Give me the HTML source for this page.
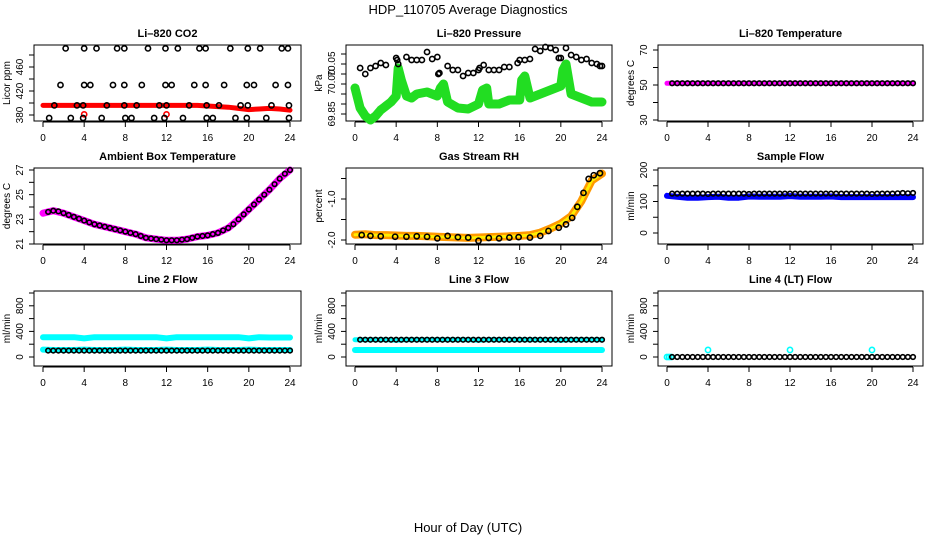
<!DOCTYPE html>
<html><head><meta charset="utf-8">
<style>
html,body{margin:0;padding:0;background:#fff;}
svg{display:block;font-family:"Liberation Sans",sans-serif;}
</style></head>
<body>
<svg id="chart" width="936" height="540" viewBox="0 0 936 540" xmlns="http://www.w3.org/2000/svg">
<text x="468" y="14" text-anchor="middle" font-size="13">HDP_110705  Average Diagnostics</text>
<text x="468" y="532" text-anchor="middle" font-size="13">Hour of Day (UTC)</text>
</svg>
<script>
// ---------- data ----------
const xTicks = [0,4,8,12,16,20,24];
const xTickLabels = ["0","4","8","12","16","20","24"];
const H48 = [0.5,1,1.5,2,2.5,3,3.5,4,4.5,5,5.5,6,6.5,7,7.5,8,8.5,9,9.5,10,10.5,11,11.5,12,12.5,13,13.5,14,14.5,15,15.5,16,16.5,17,17.5,18,18.5,19,19.5,20,20.5,21,21.5,22,22.5,23,23.5,24];
const HOURS = [0,1,2,3,4,5,6,7,8,9,10,11,12,13,14,15,16,17,18,19,20,21,22,23,24];

// CO2
const co2BlackX = [2.2,4.0,5.2,7.2,7.9,10.2,11.9,13.1,15.2,15.8,18.2,19.9,21.1,23.2,23.8, 1.7,4.0,4.6,6.8,7.9,9.6,11.9,12.5,14.7,15.8,17.6,19.8,20.5,22.6,23.8, 1.1,3.3,3.9,6.2,7.9,9.1,11.3,12.0,14.2,15.9,17.1,19.2,19.9,22.2,23.9, 0.6,2.7,3.9,5.7,8.0,8.6,10.8,11.8,13.6,15.9,16.5,18.7,19.8,21.7,23.9];
const co2BlackY = [491,491,491,491,491,491,491,491,491,491,491,491,491,491,491, 430,430,430,430,430,430,430,430,430,430,430,430,430,430,430, 396,396,396,396,396,396,396,396,396,396,396,396,396,396,396, 375,375,375,375,375,375,375,375,375,375,375,375,375,375,375];
const co2Red = [396,396,396,396,396,396,396,396,396,396,396,396,396,396,396,396,395,394,393,391,389,390,391,390,388];
const co2RedSpikeX = [4,12];
const co2RedSpikeY = [381,381];
const co2YTicks = [380,400,420,440,460,480];
const co2YLabels = ["380","","420","","460",""];

// Pressure
const presGreenX = [0,0.5,1,1.5,2,2.5,3,3.5,4,4.2,4.5,5,5.5,6,7,8,8.3,8.6,9,10,11,12,12.4,12.8,13,14,15,16,16.2,16.5,17,18,19,20,20.2,20.5,21,22,23,24];
const presGreenY = [69.99,69.94,69.92,69.91,69.92,69.935,69.945,69.955,69.97,70.04,70.01,69.97,69.965,69.975,69.98,69.97,69.99,70.0,69.955,69.94,69.9375,69.95,69.985,69.99,69.95,69.95,69.96,69.96,70.01,70.02,69.965,69.975,69.985,69.995,70.035,70.05,69.975,69.965,69.955,69.955];
const presBlackX = [0.5,1,1.5,2,2.5,3,4,4.1,4.2,5,5.5,6,6.5,7,7.5,8,8.1,8.2,9,9.5,10,10.5,11,11.5,12,12.1,12.5,13,13.5,14,14.5,15,15.8,16,16.5,17,17.5,18,18.5,19,19.5,19.8,20,20.5,21,21.5,22,22.5,23,23.5,23.8,24];
const presBlackY = [70.04,70.025,70.04,70.045,70.0525,70.0475,70.065,70.06,70.05,70.0675,70.06,70.06,70.06,70.08,70.0625,70.0675,70.025,70.0275,70.045,70.035,70.035,70.02,70.0275,70.0275,70.035,70.04,70.0475,70.035,70.035,70.035,70.0425,70.0425,70.0525,70.06,70.06,70.0625,70.0875,70.0825,70.0925,70.09,70.085,70.065,70.0650,70.09,70.0725,70.0675,70.06,70.0625,70.0525,70.05,70.045,70.045];
const presYTicks = [69.925,69.95,69.975,70.0,70.025,70.05,70.075];
const presYLabels = ["","","","","","",""];
const presLabelVals = [69.925,70.005,70.05];
const presLabelText = ["69.85","70.00","70.05"];

// Li-820 temperature
const tempBlack = [51,51,51,51,51,51,51,51,51,51,51,51,51,51,51,51,51,51,51,51,51,51,51,51,51,51,51,51,51,51,51,51,51,51,51,51,51,51,51,51,51,51,51,51,51,51,51,51];
const tempMag = [51,51,51,51,51,51,51,51,51,51,51,51,51,51,51,51,51,51,51,51,51,51,51,51,51];
const tempYTicks = [30,40,50,60,70];
const tempYLabels = ["30","","50","","70"];

// Ambient
const ambMag = [23.5,23.7,23.5,23.2,22.9,22.6,22.4,22.2,22.0,21.8,21.5,21.4,21.3,21.3,21.4,21.6,21.7,21.9,22.3,23.0,23.8,24.6,25.4,26.3,27.0];
const ambBlackX = [0.5,1,1.5,2,2.5,3,3.5,4,4.5,5,5.5,6,6.5,7,7.5,8,8.5,9,9.5,10,10.5,11,11.5,12,12.5,13,13.5,14,14.5,15,15.5,16,16.5,17,17.5,18,18.5,19,19.5,20,20.5,21,21.5,22,22.5,23,23.5,24];
const ambBlackY = [23.6,23.7,23.65,23.5,23.35,23.2,23.05,22.9,22.75,22.6,22.5,22.4,22.3,22.2,22.1,22.0,21.9,21.8,21.65,21.5,21.45,21.4,21.35,21.3,21.3,21.3,21.35,21.4,21.5,21.6,21.65,21.7,21.8,21.9,22.1,22.3,22.6,23.0,23.4,23.8,24.2,24.6,25.0,25.4,25.85,26.3,26.7,27.0];
const ambYTicks = [21,22,23,24,25,26,27];
const ambYLabels = ["21","","23","","25","","27"];

// Gas RH
const rhOrange = [-1.87,-1.86,-1.88,-1.88,-1.89,-1.9,-1.9,-1.91,-1.92,-1.93,-1.94,-1.95,-1.94,-1.93,-1.92,-1.91,-1.9,-1.88,-1.82,-1.72,-1.6,-1.42,-1.05,-0.55,-0.38];
const rhBlackX = [0.65,1.5,2.5,3.9,5,6,7,8.0,9,10,11,12.0,13,14,15,15.9,17,18.0,18.8,19.8,20.5,21.1,21.6,22.2,22.7,23.2,23.8];
const rhBlackY = [-1.88,-1.9,-1.91,-1.92,-1.92,-1.91,-1.92,-1.96,-1.9,-1.93,-1.94,-2.02,-1.95,-1.96,-1.94,-1.93,-1.94,-1.9,-1.78,-1.7,-1.62,-1.46,-1.19,-0.85,-0.51,-0.42,-0.37];
const rhYTicks = [-2.0,-1.5,-1.0,-0.5];
const rhYLabels = ["-2.0","","-1.0",""];

// Sample flow
const sampBlue = [118,115,112,112,114,115,112,112,116,115,115,115,117,115,115,115,116,114,114,114,114,114,114,114,114];
const sampBlack = [125,125,125,125,125,125,125,124,125,125,125,125,125,125,125,124,125,125,125,125,125,125,125,125,125,125,125,125,125,125,125,125,125,125,125,125,125,125,125,124,125,125,125,125,126,127,126,127];
const flowSmallTicks = [0,50,100,150,200];
const flowSmallLabels = ["0","","100","","200"];

// Line flows
const l2CyanHi = [310,310,310,310,290,310,310,310,310,310,310,310,290,310,310,310,310,310,310,310,290,310,305,305,305];
const l2CyanLo = [115,110,110,110,115,110,110,110,115,110,110,110,115,110,110,110,115,110,110,110,115,110,110,110,110];
const l2Black = [100,100,100,100,100,100,100,100,100,100,100,100,100,100,100,100,100,100,100,100,100,100,100,100,100,100,100,100,100,100,100,100,100,100,100,100,100,100,100,100,100,100,100,100,100,100,100,100];
const l3CyanHi = [270,268,268,268,262,268,268,268,268,268,268,268,262,268,268,268,268,268,268,268,262,268,268,268,268];
const l3CyanLo = [110,110,110,110,110,110,110,110,110,110,110,110,110,110,110,110,110,110,110,110,110,110,110,110,110];
const l3Black = [270,270,270,270,270,270,270,270,270,270,270,270,270,270,270,270,270,270,270,270,270,270,270,270,270,270,270,270,270,270,270,270,270,270,270,270,270,270,270,270,270,270,270,270,270,270,270,270];
const l4CyanX = [0,0.2,0.4,4,12,20];
const l4CyanY = [0,0,0,110,110,110];
const l4Black = [0,0,0,0,0,0,0,0,0,0,0,0,0,0,0,0,0,0,0,0,0,0,0,0,0,0,0,0,0,0,0,0,0,0,0,0,0,0,0,0,0,0,0,0,0,0,0,0];
const flowTicks = [0,200,400,600,800,1000];
const flowLabels = ["0","","400","","800",""];

// ---------- layout ----------
const NS = "http://www.w3.org/2000/svg";
const svg = document.getElementById("chart");
const cols = [{l:34,r:301,x0:43,x24:290},{l:346,r:612,x0:355,x24:602},{l:658,r:923,x0:667,x24:913}];
const rows = [{t:45,b:121},{t:168,b:244},{t:291,b:366}];

function mk(tag, attrs, parent){
  const e = document.createElementNS(NS, tag);
  for (const k in attrs) e.setAttribute(k, attrs[k]);
  (parent||svg).appendChild(e);
  return e;
}

function yLabel(P, key, parent, yy, txt){
  const lt = mk("text", {x:0, y:0, "text-anchor":"middle", "font-size":10, transform:`translate(${P.C.l-11},${yy}) rotate(-90)`}, parent);
  lt.textContent = txt;
  
  
}

function makePanel(key, title, ytitle, c, r, ymin, ymax, yminPx, ymaxPx, yt, yl){
  const C = cols[c], R = rows[r];
  const g = mk("g", {});
  
  
  const P = {g:g, C:C, R:R,
    x: h => C.x0 + (C.x24 - C.x0) * h / 24,
    y: v => yminPx + (ymaxPx - yminPx) * (v - ymin) / (ymax - ymin)};
  const box = mk("rect", {x:C.l, y:R.t, width:C.r-C.l, height:R.b-R.t, fill:"none", stroke:"#000", "stroke-width":1}, g);
  
  
  const tt = mk("text", {x:(C.l+C.r)/2, y:R.t-8, "text-anchor":"middle", "font-size":11, "font-weight":"bold"}, g);
  tt.textContent = title;
  
  
  const xa = mk("g", {}, g);
  
  
  mk("line", {x1:P.x(xTicks[0]), x2:P.x(xTicks[xTicks.length-1]), y1:R.b+1, y2:R.b+1, stroke:"#000"}, xa);
  xTicks.forEach((t,i) => {
    mk("line", {x1:P.x(t), x2:P.x(t), y1:R.b+1, y2:R.b+6, stroke:"#000"}, xa);
    const lt = mk("text", {x:P.x(t), y:R.b+20, "text-anchor":"middle", "font-size":10}, xa);
    lt.textContent = xTickLabels[i];
    
    
  });
  const ya = mk("g", {}, g);
  
  
  P.ya = ya;
  yt.forEach((t,i) => {
    const yy = P.y(t);
    mk("line", {x1:C.l-5, x2:C.l, y1:yy, y2:yy, stroke:"#000"}, ya);
    if (yl[i]) yLabel(P, key, ya, yy, yl[i]);
  });
  const ytl = mk("text", {x:0, y:0, "text-anchor":"middle", "font-size":10, transform:`translate(${C.l-24},${(R.t+R.b)/2}) rotate(-90)`}, g);
  ytl.textContent = ytitle;
  
  
  return P;
}

function band(P, xs, ys, color, w, name){
  const pts = xs.map((h,i) => P.x(h).toFixed(1) + "," + P.y(ys[i]).toFixed(1)).join(" ");
  const pl = mk("polyline", {points:pts, fill:"none", stroke:color, "stroke-width":w, "stroke-linecap":"round", "stroke-linejoin":"round"}, P.g);
  
  
  return pl;
}
function dots(P, xs, ys, color, name, r){
  const gg = mk("g", {}, P.g);
  
  
  xs.forEach((h,i) => {
    const c = mk("circle", {cx:P.x(h), cy:P.y(ys[i]), r:r||2.6, fill:"none", stroke:color, "stroke-width":1.6}, gg);
    
    
  });
}

// Row 1
let P = makePanel("co2", "Li\u2013820 CO2", "Licor ppm", 0, 0, 380, 480, 115, 55, co2YTicks, co2YLabels);
band(P, HOURS, co2Red, "#ff0000", 5, "co2-red-series");
dots(P, co2RedSpikeX, co2RedSpikeY, "#ff0000", "co2-red-outliers");
dots(P, co2BlackX, co2BlackY, "#000", "co2-black-series");

P = makePanel("pressure", "Li\u2013820 Pressure", "kPa", 1, 0, 70.0, 70.05, 84, 64, presYTicks, presYLabels);
presLabelVals.forEach((v,i) => yLabel(P, "pressure", P.ya, P.y(v), presLabelText[i]));
band(P, presGreenX, presGreenY, "#22dd22", 9, "pressure-green-series");
dots(P, presBlackX, presBlackY, "#000", "pressure-black-series");

P = makePanel("li820-temp", "Li\u2013820 Temperature", "degrees C", 2, 0, 30, 70, 120, 50, tempYTicks, tempYLabels);
band(P, HOURS, tempMag, "#ff00ff", 5, "li820-temp-magenta-series");
dots(P, H48, tempBlack, "#000", "li820-temp-black-series", 2.3);

// Row 2
P = makePanel("ambient", "Ambient Box Temperature", "degrees C", 0, 1, 21, 27, 244, 170, ambYTicks, ambYLabels);
band(P, HOURS, ambMag, "#ff00ff", 7, "ambient-magenta-series");
dots(P, ambBlackX, ambBlackY, "#000", "ambient-black-series", 2.3);

P = makePanel("rh", "Gas Stream RH", "percent", 1, 1, -2.0, -1.0, 240, 199, rhYTicks, rhYLabels);
band(P, HOURS, rhOrange, "#ff9900", 8, "rh-orange-series");
band(P, HOURS, rhOrange, "#ffee00", 3, "rh-yellow-series").setAttribute("stroke-dasharray", "2 2");
dots(P, rhBlackX, rhBlackY, "#000", "rh-black-series");

P = makePanel("sample-flow", "Sample Flow", "ml/min", 2, 1, 0, 200, 233, 170, flowSmallTicks, flowSmallLabels);
band(P, HOURS, sampBlue, "#0000ff", 6, "sample-flow-blue-series");
dots(P, H48, sampBlack, "#000", "sample-flow-black-series", 2.3);

// Row 3
P = makePanel("line2", "Line 2 Flow", "ml/min", 0, 2, 0, 1000, 357, 293, flowTicks, flowLabels);
band(P, HOURS, l2CyanHi, "#00ffff", 6, "line2-cyan-high-series");
band(P, HOURS, l2CyanLo, "#00ffff", 6, "line2-cyan-low-series");
dots(P, H48, l2Black, "#000", "line2-black-series", 2.3);

P = makePanel("line3", "Line 3 Flow", "ml/min", 1, 2, 0, 1000, 357, 293, flowTicks, flowLabels);
band(P, HOURS, l3CyanHi, "#00ffff", 5, "line3-cyan-high-series");
band(P, HOURS, l3CyanLo, "#00ffff", 6, "line3-cyan-low-series");
dots(P, H48, l3Black, "#000", "line3-black-series", 2.3);

P = makePanel("line4", "Line 4 (LT) Flow", "ml/min", 2, 2, 0, 1000, 357, 293, flowTicks, flowLabels);
dots(P, l4CyanX, l4CyanY, "#00ffff", "line4-cyan-series");
dots(P, H48, l4Black, "#000", "line4-black-series", 2.3);
</script>
</body></html>
